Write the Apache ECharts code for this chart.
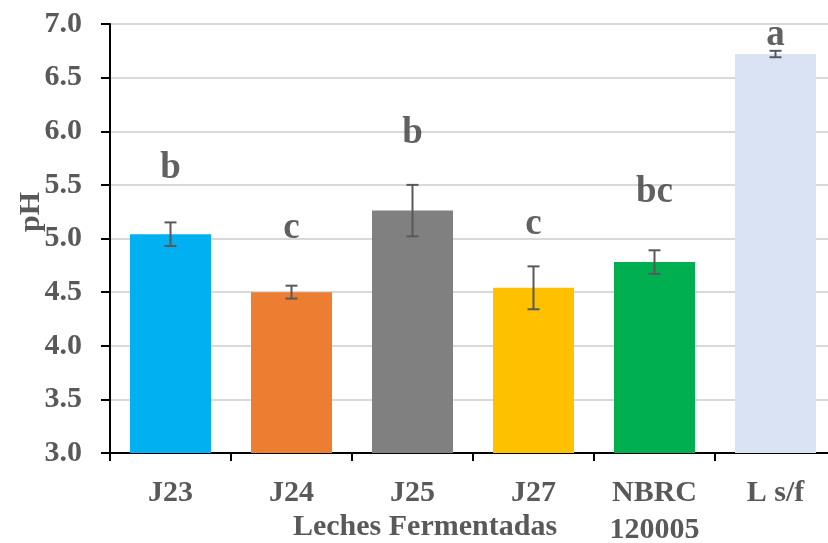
<!DOCTYPE html>
<html><head><meta charset="utf-8">
<script src="https://cdn.jsdelivr.net/npm/echarts@6/dist/echarts.min.js"></script>
<style>html,body{margin:0;padding:0;background:#fff}#c{width:828px;height:543px}</style>
</head><body><div id="c"></div>
<script>
const categories = ['J23', 'J24', 'J25', 'J27', 'NBRC\n120005', 'L s/f'];
const phValues = [5.04, 4.50, 5.26, 4.54, 4.78, 6.72];
const phErrors = [0.11, 0.06, 0.24, 0.20, 0.11, 0.03];
const groupLetters = ['b', 'c', 'b', 'c', 'bc', 'a'];
const letterPos = [5.65, 5.09, 5.98, 5.13, 5.43, 6.89];
const barColors = ['#00B0F0', '#ED7D31', '#808080', '#FFC000', '#00B050', '#DAE3F3'];
const yTicks = ['3.0','3.5','4.0','4.5','5.0','5.5','6.0','6.5','7.0'];

const FONT = '"Liberation Serif", "Times New Roman", serif';
const chart = echarts.init(document.getElementById('c'), null, {renderer: 'canvas'});
chart.setOption({
  animation: false,
  grid: {left: 110, top: 24, right: -8, bottom: 90, containLabel: false, outerBoundsMode: 'none'},
  xAxis: {
    type: 'category', data: categories,
    axisLine: {lineStyle: {color: '#000', width: 2}},
    axisTick: {show: true, length: 8, lineStyle: {color: '#000', width: 2}},
    axisLabel: {color: '#595959', fontFamily: FONT, fontWeight: 'bold', fontSize: 30, margin: 22, lineHeight: 37, interval: 0}
  },
  yAxis: {
    type: 'value', min: 3, max: 7, interval: 0.5,
    axisLine: {show: true, lineStyle: {color: '#000', width: 2}},
    axisTick: {show: true, length: 9, lineStyle: {color: '#000', width: 2}},
    splitLine: {lineStyle: {color: '#D9D9D9', width: 2}},
    axisLabel: {color: '#595959', fontFamily: FONT, fontWeight: 'bold', fontSize: 30, margin: 28,
      formatter: v => yTicks[Math.round((v - 3) / 0.5)]}
  },
  graphic: [
    {type: 'text', x: 31, y: 212, rotation: Math.PI / 2,
      style: {text: 'pH', font: 'bold 30px ' + FONT, fill: '#595959', align: 'center', verticalAlign: 'middle'}},
    {type: 'text', x: 425, y: 527,
      style: {text: 'Leches Fermentadas', font: 'bold 30px ' + FONT, fill: '#595959', align: 'center', verticalAlign: 'middle'}}
  ],
  series: [
    {
      type: 'bar', barWidth: 81,
      data: phValues.map((v, i) => ({value: v, itemStyle: {color: barColors[i]}}))
    },
    {
      type: 'custom',
      data: phValues.map((v, i) => [i, v - phErrors[i], v + phErrors[i]]),
      renderItem: function (params, api) {
        const lo = api.coord([api.value(0), api.value(1)]);
        const hi = api.coord([api.value(0), api.value(2)]);
        const w = 6;
        const st = {stroke: '#595959', lineWidth: 2};
        return {type: 'group', children: [
          {type: 'line', shape: {x1: hi[0], y1: hi[1], x2: lo[0], y2: lo[1]}, style: st},
          {type: 'line', shape: {x1: hi[0] - w, y1: hi[1], x2: hi[0] + w, y2: hi[1]}, style: st},
          {type: 'line', shape: {x1: lo[0] - w, y1: lo[1], x2: lo[0] + w, y2: lo[1]}, style: st}
        ]};
      },
      z: 5
    },
    {
      type: 'scatter', symbolSize: 0,
      data: letterPos.map((v, i) => [i, v]),
      label: {show: true, position: 'inside', formatter: p => groupLetters[p.dataIndex],
        color: '#3A3A3A', fontFamily: FONT, fontWeight: 'bold', fontSize: 37},
      z: 6
    }
  ]
});
</script></body></html>
